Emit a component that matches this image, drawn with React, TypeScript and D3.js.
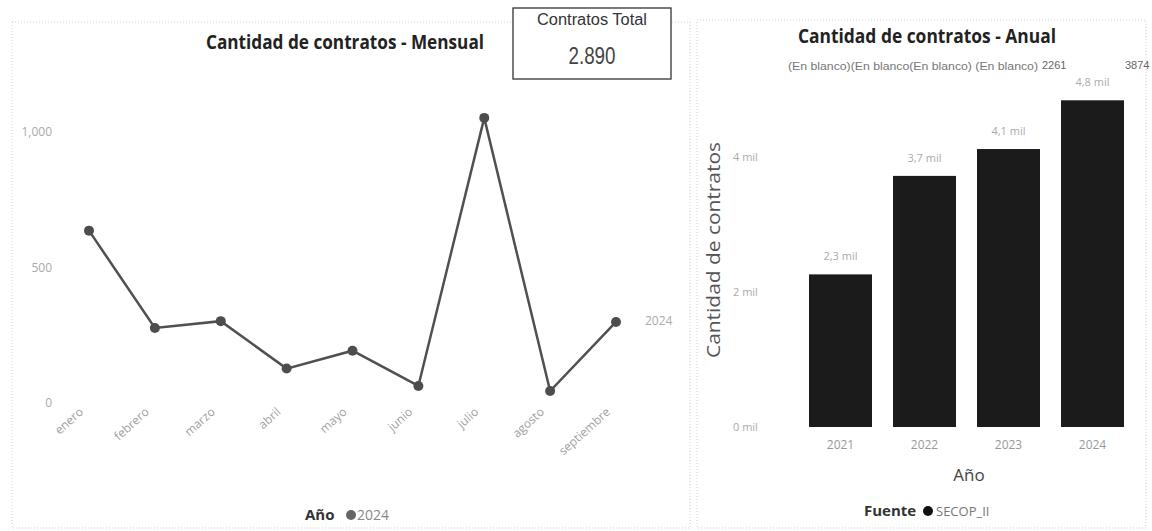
import React from "react";
import * as d3 from "d3";

const months = ["enero", "febrero", "marzo", "abril", "mayo", "junio", "julio", "agosto", "septiembre"];
const monthly2024 = [636, 277, 302, 127, 193, 63, 1052, 44, 299];
const monthlyTicks = [0, 500, 1000];

const years = ["2021", "2022", "2023", "2024"];
const yearlyValues = [2261, 3720, 4118, 4840];
const yearlyTicks = [0, 2000, 4000];
const headerLabels = ["(En blanco)(En blanco(En blanco) (En blanco)", "2261", "3874"];

const totalLabel = "Contratos Total";
const totalValue = "2.890";

const FONT = "'Open Sans', 'Noto Sans', 'DejaVu Sans', sans-serif";
const NARROW = "'Liberation Sans Narrow', 'Liberation Sans', Arial, sans-serif";

const fmtThousands = (v: number) => d3.format(",")(v);
const fmtMil = (v: number) => `${d3.format(".0f")(v / 1000)} mil`;
const fmtMil1 = (v: number) => `${(v / 1000).toFixed(1).replace(".", ",")} mil`;

export default function App() {
  // Left chart scales
  const xM = d3.scalePoint<string>().domain(months).range([89, 616]);
  const yM = d3.scaleLinear().domain([0, 1000]).range([403, 132]);
  const line = d3
    .line<number>()
    .x((_, i) => xM(months[i]) as number)
    .y((d) => yM(d));

  // Right chart scales
  const xY = d3.scaleBand<string>().domain(years).range([798.5, 1134.5]).paddingInner(0.25).paddingOuter(0.125);
  const yY = d3.scaleLinear().domain([0, 4000]).range([427, 157]);

  return (
    <svg width={1152} height={531} style={{ position: "absolute", left: 0, top: 0, background: "#fff" }}>
      {/* Panels */}
      <rect x={12} y={22} width={678} height={506} fill="none" stroke="#cfcfcf" strokeDasharray="1 2" />
      <rect x={697} y={20} width={449} height={508} fill="none" stroke="#cfcfcf" strokeDasharray="1 2" />

      {/* Left title */}
      <text x={206} y={49} fontFamily={FONT} fontWeight={700} fontSize={19} fill="#222" textLength={278} lengthAdjust="spacingAndGlyphs">
        Cantidad de contratos - Mensual
      </text>

      {/* KPI card */}
      <rect x={513} y={8} width={158} height={71} fill="#fff" stroke="#333" strokeWidth={1.3} />
      <text x={592} y={25} textAnchor="middle" fontFamily={NARROW} fontSize={16} fill="#333" textLength={110} lengthAdjust="spacingAndGlyphs">
        {totalLabel}
      </text>
      <text x={592} y={64} textAnchor="middle" fontFamily={NARROW} fontSize={23} fill="#444" textLength={47} lengthAdjust="spacingAndGlyphs">
        {totalValue}
      </text>

      {/* Left y ticks */}
      {monthlyTicks.map((t) => (
        <text key={t} x={52} y={yM(t)} dy="0.35em" textAnchor="end" fontFamily={FONT} fontSize={12} fill="#aaa">
          {fmtThousands(t)}
        </text>
      ))}

      {/* Left x labels */}
      {months.map((m) => (
        <text
          key={m}
          transform={`translate(${(xM(m) as number) - 5},${413}) rotate(-42)`}
          textAnchor="end"
          fontFamily={FONT}
          fontSize={12}
          fill="#a0a0a0"
        >
          {m}
        </text>
      ))}

      {/* Line */}
      <path d={line(monthly2024) || ""} fill="none" stroke="#505050" strokeWidth={2.5} />
      {monthly2024.map((v, i) => (
        <circle key={i} cx={xM(months[i]) as number} cy={yM(v)} r={5} fill="#4d4d4d" />
      ))}
      <text x={645} y={321} dy="0.35em" fontFamily={FONT} fontSize={12} fill="#aaa">
        2024
      </text>

      {/* Left legend */}
      <text x={305} y={520} fontFamily={FONT} fontWeight={700} fontSize={15} fill="#333">
        Año
      </text>
      <circle cx={351} cy={515} r={5} fill="#666" />
      <text x={357} y={520} fontFamily={FONT} fontSize={14} fill="#888">
        2024
      </text>

      {/* Right title */}
      <text x={798} y={43} fontFamily={FONT} fontWeight={700} fontSize={19} fill="#222" textLength={258} lengthAdjust="spacingAndGlyphs">
        Cantidad de contratos - Anual
      </text>
      <text x={788} y={70} fontFamily={NARROW} fontSize={11} fill="#777" textLength={250} lengthAdjust="spacingAndGlyphs">
        {headerLabels[0]}
      </text>
      <text x={1042} y={69} fontFamily={NARROW} fontSize={11} fill="#666">
        {headerLabels[1]}
      </text>
      <text x={1125} y={69} fontFamily={NARROW} fontSize={11} fill="#666">
        {headerLabels[2]}
      </text>

      {/* Right y axis title */}
      <text
        transform={`translate(${720},${250}) rotate(-90)`}
        textAnchor="middle"
        fontFamily={FONT}
        fontSize={18}
        fill="#555"
        textLength={216}
        lengthAdjust="spacingAndGlyphs"
      >
        Cantidad de contratos
      </text>

      {/* Right y ticks */}
      {yearlyTicks.map((t) => (
        <text key={t} x={733} y={yY(t)} dy="0.35em" fontFamily={FONT} fontSize={11} fill="#aaa">
          {fmtMil(t)}
        </text>
      ))}

      {/* Bars */}
      {years.map((yr, i) => (
        <g key={yr}>
          <rect x={xY(yr) as number} y={yY(yearlyValues[i])} width={xY.bandwidth()} height={yY(0) - yY(yearlyValues[i])} fill="#1b1b1b" />
          <text
            x={(xY(yr) as number) + xY.bandwidth() / 2}
            y={yY(yearlyValues[i]) - 14}
            textAnchor="middle"
            fontFamily={FONT}
            fontSize={11}
            fill="#aaa"
          >
            {fmtMil1(yearlyValues[i])}
          </text>
          <text
            x={(xY(yr) as number) + xY.bandwidth() / 2}
            y={449}
            textAnchor="middle"
            fontFamily={FONT}
            fontSize={12}
            fill="#999"
          >
            {yr}
          </text>
        </g>
      ))}

      {/* Right x title */}
      <text x={969} y={481} textAnchor="middle" fontFamily={FONT} fontSize={17} fill="#444">
        Año
      </text>

      {/* Right legend */}
      <text x={864} y={516} fontFamily={FONT} fontWeight={700} fontSize={15} fill="#333">
        Fuente
      </text>
      <circle cx={928} cy={511} r={5} fill="#111" />
      <text x={936} y={516} fontFamily={FONT} fontSize={13} fill="#777">
        SECOP_II
      </text>
    </svg>
  );
}
